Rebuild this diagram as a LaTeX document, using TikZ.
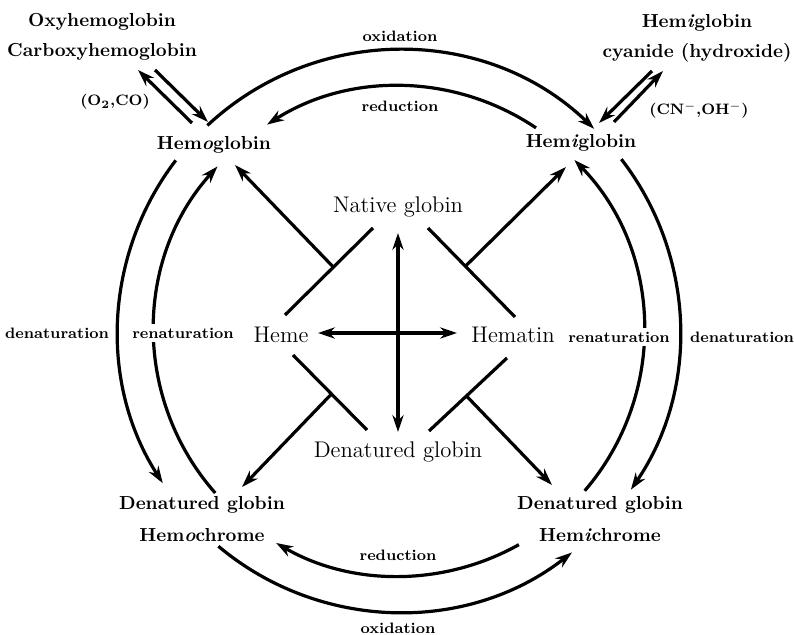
\documentclass[tikz,border=0pt]{standalone}
\usepackage{tikz}
\usetikzlibrary{arrows.meta,calc}

\begin{document}
\begin{tikzpicture}[x=0.53pt, y=0.53pt,
    cpd/.style={font=\bfseries, align=center, inner sep=3pt},
    mid/.style={font=\large, inner sep=3pt},
    lbl/.style={font=\footnotesize\bfseries, inner sep=2pt},
    arr/.style={-{Stealth[length=9pt,width=6pt]}, line width=1.7pt},
    dbl/.style={{Stealth[length=9pt,width=6pt]}-{Stealth[length=9pt,width=6pt]}, line width=1.7pt},
    bar/.style={line width=1.7pt}]
  \useasboundingbox (0,0) rectangle (794,-635);
  % === Compounds on the ring ===
  \node[cpd] (oxy)   at (102,-37)  {Oxyhemoglobin\\[4pt]Carboxyhemoglobin};
  \node[cpd] (hicn)  at (697,-38)  {Hem\textit{i}globin\\[4pt]cyanide (hydroxide)};
  \node[cpd] (hgb)   at (214,-145) {Hem\textit{o}globin};
  \node[cpd] (hig)   at (581,-143) {Hem\textit{i}globin};
  \node[cpd] (hchr)  at (202,-519) {Denatured globin\\[5pt]Hem\textit{o}chrome};
  \node[cpd] (hmchr) at (600,-519) {Denatured globin\\[5pt]Hem\textit{i}chrome};
  % === Components in the middle ===
  \node[mid] (natglob) at (398,-207) {Native globin};
  \node[mid] (heme)    at (281,-335) {Heme};
  \node[mid] (hematin) at (513,-335) {Hematin};
  \node[mid] (denglob) at (398,-452) {Denatured globin};
  % === Points ===
  \coordinate (ctr) at (399,-331);
  \coordinate (nA) at (285,-315); \coordinate (nB) at (373,-228);
  \coordinate (nC) at (428,-228); \coordinate (nD) at (515,-317);
  \coordinate (dA) at (293,-355); \coordinate (dB) at (367,-430);
  \coordinate (dC) at (507,-358); \coordinate (dD) at (429,-431);
  \coordinate (jA) at ($(nA)!0.55!(nB)$);
  \coordinate (jB) at ($(nC)!0.43!(nD)$);
  \coordinate (jC) at ($(dA)!0.52!(dB)$);
  \coordinate (jD) at ($(dC)!0.52!(dD)$);
  % === Ligand exchange ===
  \draw[arr] ($(hgb)+(-22,22)$) -- ($(oxy)+(36,-33)$);
  \draw[arr] ($(oxy)+(53,-33)$) -- ($(hgb)+(-6,23)$);
  \draw[arr] ($(hicn)+(-45,-33)$) -- ($(hig)+(18,20)$);
  \draw[arr] ($(hig)+(33,21)$) -- ($(hicn)+(-34,-33)$);
  % === Outer ring ===
  \draw[arr] (ctr) ++(133:281) arc[start angle=133, end angle=46, radius=281];
  \draw[arr] (ctr) ++(142.6:281) arc[start angle=142.6, end angle=212.8, radius=281];
  \draw[arr] (ctr) ++(37.7:281) arc[start angle=37.7, end angle=-34.4, radius=281];
  \draw[arr] (ctr) ++(230:281) arc[start angle=230, end angle=308, radius=281];
  % === Inner ring ===
  \draw[arr] (ctr) ++(56:245) arc[start angle=56, end angle=122.6, radius=245];
  \draw[arr] (ctr) ++(221.4:245) arc[start angle=221.4, end angle=137.8, radius=245];
  \draw[arr] (ctr) ++(-40.7:245) arc[start angle=-40.7, end angle=44.3, radius=245];
  \draw[arr] (ctr) ++(-60.7:245) arc[start angle=-60.7, end angle=-120.1, radius=245];
  % === Center cross ===
  \draw[dbl] ($(natglob)+(0,-26)$) -- ($(denglob)+(0,20)$);
  \draw[dbl] ($(heme)+(37,2)$) -- ($(hematin)+(-56,2)$);
  % === Combination bars ===
  \draw[bar] (nA) -- (nB);
  \draw[bar] (nC) -- (nD);
  \draw[bar] (dA) -- (dB);
  \draw[bar] (dC) -- (dD);
  \draw[arr] (jA) -- ($(hgb)+(21,-20)$);
  \draw[arr] (jB) -- ($(hig)+(-15,-24)$);
  \draw[arr] (jC) -- ($(hchr)+(40,32)$);
  \draw[arr] (jD) -- ($(hmchr)+(-48,34)$);
  % === Labels ===
  \node[lbl] (lbOxT) at (400,-36)  {oxidation};
  \node[lbl] (lbRdT) at (400,-106) {reduction};
  \node[lbl] (lbDnL) at (57,-333)  {denaturation};
  \node[lbl, fill=white] (lbRnL) at (183,-333) {renaturation};
  \node[lbl, fill=white] (lbRnR) at (619,-337) {renaturation};
  \node[lbl] (lbDnR) at (742,-337) {denaturation};
  \node[lbl] (lbRdB) at (398,-555) {reduction};
  \node[lbl] (lbOxB) at (398,-628) {oxidation};
  \node[lbl] (lbO2)  at (115,-102) {(O\textsubscript{2},CO)};
  \node[lbl] (lbCN)  at (699,-110) {(CN\textsuperscript{$-$},OH\textsuperscript{$-$})};
\end{tikzpicture}
\end{document}
